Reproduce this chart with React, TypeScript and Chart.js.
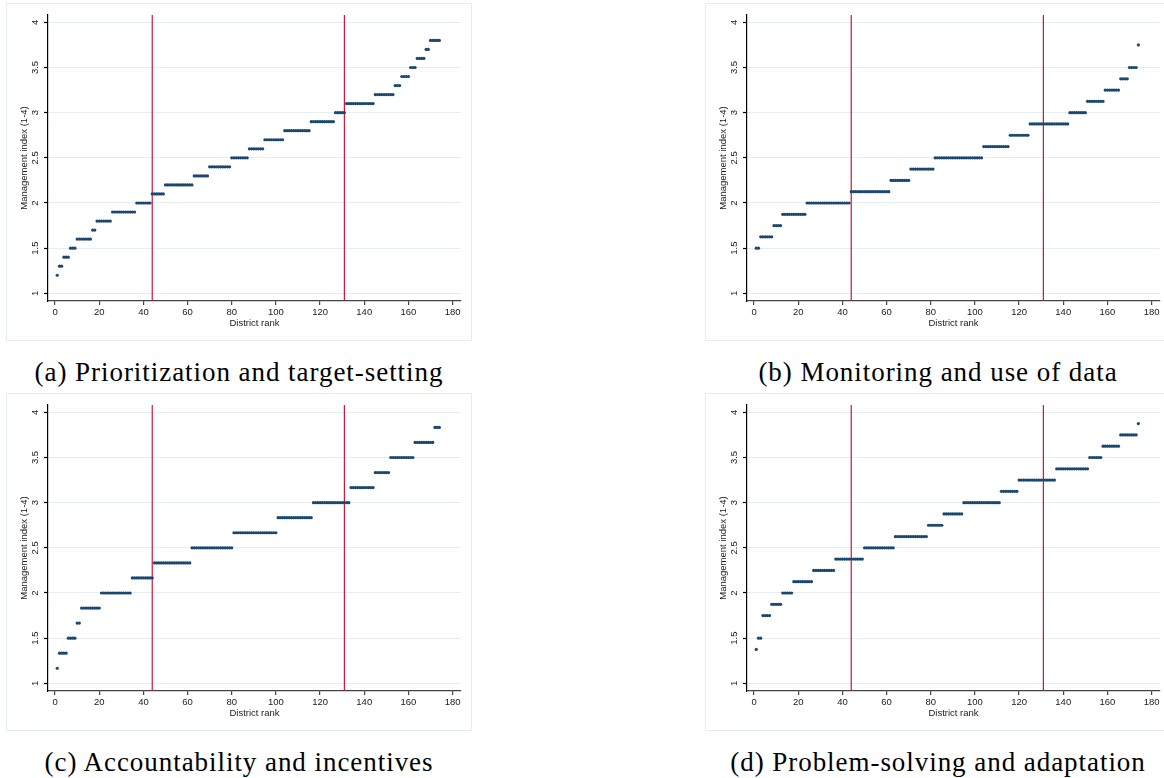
import React, { useEffect, useRef } from "react";
import { Chart, registerables } from "chart.js";

Chart.register(...registerables);

// ---- axes ----
const xTickValues = [0, 20, 40, 60, 80, 100, 120, 140, 160, 180];
const yTickValues = [1, 1.5, 2, 2.5, 3, 3.5, 4];
const yTickLabels = ["1", "1.5", "2", "2.5", "3", "3.5", "4"];
const xTitle = "District rank";
const yTitle = "Management index (1-4)";
const cutoffRanks = [44, 131];

// ---- data: index levels in rank order, and how many districts sit at each level ----
const levelsA = [1.2, 1.3, 1.4, 1.5, 1.6, 1.7, 1.8, 1.9, 2.0, 2.1, 2.2, 2.3, 2.4, 2.5, 2.6, 2.7, 2.8, 2.9, 3.0, 3.1, 3.2, 3.3, 3.4, 3.5, 3.6, 3.7, 3.8];
const countsA = [1, 2, 3, 3, 7, 2, 7, 11, 7, 6, 13, 7, 10, 8, 7, 9, 12, 11, 5, 13, 9, 3, 4, 3, 4, 2, 5];

const levelsB = [1.5, 1.625, 1.75, 1.875, 2.0, 2.125, 2.25, 2.375, 2.5, 2.625, 2.75, 2.875, 3.0, 3.125, 3.25, 3.375, 3.5, 3.75];
const countsB = [2, 6, 4, 11, 20, 18, 9, 11, 22, 12, 9, 18, 8, 8, 7, 4, 4, 1];

const levelsC = [1.1667, 1.3333, 1.5, 1.6667, 1.8333, 2.0, 2.1667, 2.3333, 2.5, 2.6667, 2.8333, 3.0, 3.1667, 3.3333, 3.5, 3.6667, 3.8333];
const countsC = [1, 4, 4, 2, 9, 14, 10, 17, 19, 20, 16, 17, 11, 7, 11, 9, 3];

const levelsD = [1.375, 1.5, 1.75, 1.875, 2.0, 2.125, 2.25, 2.375, 2.5, 2.625, 2.75, 2.875, 3.0, 3.125, 3.25, 3.375, 3.5, 3.625, 3.75, 3.875];
const countsD = [1, 2, 4, 5, 5, 9, 10, 13, 14, 15, 7, 9, 17, 8, 17, 15, 6, 8, 8, 1];

const captions = [
  "(a) Prioritization and target-setting",
  "(b) Monitoring and use of data",
  "(c) Accountability and incentives",
  "(d) Problem-solving and adaptation",
];

function toPoints(levels: number[], counts: number[]) {
  const pts: { x: number; y: number }[] = [];
  let rank = 1;
  levels.forEach((v, i) => {
    for (let k = 0; k < counts[i]; k++) pts.push({ x: rank++, y: v });
  });
  return pts;
}

const CANVAS_W = 464;
const CANVAS_H = 336;
const AREA = { left: 41, right: 454, top: 11, bottom: 297 };
const SANS = '"Liberation Sans", Arial, Helvetica, sans-serif';

function Panel(props: { left: number; top: number; levels: number[]; counts: number[] }) {
  const ref = useRef<HTMLCanvasElement | null>(null);
  useEffect(() => {
    const canvas = ref.current!;
    const overlay = {
      id: "stataOverlay",
      beforeDatasetsDraw(chart: any) {
        const { ctx, chartArea, scales } = chart;
        ctx.save();
        ctx.strokeStyle = "rgb(210,20,58)";
        ctx.lineWidth = 1.2;
        cutoffRanks.forEach((r) => {
          const px = scales.x.getPixelForValue(r);
          ctx.beginPath();
          ctx.moveTo(px, chartArea.top);
          ctx.lineTo(px, chartArea.bottom);
          ctx.stroke();
        });
        ctx.restore();
      },
      afterDraw(chart: any) {
        const { ctx, chartArea, scales } = chart;
        const ys = scales.y;
        ctx.save();
        ctx.fillStyle = "#1a1a1a";
        ctx.font = "9.5px " + SANS;
        ctx.textAlign = "center";
        ctx.textBaseline = "middle";
        ys.ticks.forEach((t: any) => {
          const idx = yTickValues.indexOf(t.value);
          const label = idx >= 0 ? yTickLabels[idx] : String(t.value);
          const py = ys.getPixelForValue(t.value);
          ctx.save();
          ctx.translate(28.5, py);
          ctx.rotate(-Math.PI / 2);
          ctx.fillText(label, 0, 0);
          ctx.restore();
        });
        ctx.save();
        ctx.translate(17, (chartArea.top + chartArea.bottom) / 2);
        ctx.rotate(-Math.PI / 2);
        ctx.fillText(yTitle, 0, 0);
        ctx.restore();
        ctx.fillText(xTitle, (chartArea.left + chartArea.right) / 2, 319);
        ctx.restore();
      },
    };
    const chart = new Chart(canvas, {
      type: "scatter",
      data: {
        datasets: [
          {
            data: toPoints(props.levels, props.counts),
            pointRadius: 1.6,
            pointHoverRadius: 1.6,
            pointBorderWidth: 0,
            pointBackgroundColor: "#1a476f",
            pointBorderColor: "#1a476f",
          },
        ],
      },
      options: {
        responsive: false,
        animation: false,
        events: [],
        layout: { padding: { left: 0, top: AREA.top, right: CANVAS_W - AREA.right, bottom: 0 } },
        plugins: { legend: { display: false }, tooltip: { enabled: false } },
        scales: {
          x: {
            type: "linear",
            min: -3.2,
            max: 183.8,
            afterBuildTicks: (s: any) => {
              s.ticks = xTickValues.map((v) => ({ value: v }));
            },
            afterFit: (s: any) => {
              s.height = CANVAS_H - AREA.bottom;
            },
            border: { display: true, color: "#444", width: 1.2 },
            grid: { drawOnChartArea: false, drawTicks: true, tickLength: 4, tickColor: "#444", lineWidth: 1.2 },
            ticks: { color: "#1a1a1a", font: { family: SANS, size: 9.5 }, padding: 2, maxRotation: 0, minRotation: 0 },
            title: { display: false },
          },
          y: {
            type: "linear",
            min: 0.915,
            max: 4.081,
            afterBuildTicks: (s: any) => {
              s.ticks = yTickValues.map((v) => ({ value: v }));
            },
            afterFit: (s: any) => {
              s.width = AREA.left;
            },
            border: { display: true, color: "#000", width: 1.2 },
            grid: { color: "#e6eff0", lineWidth: 1, drawTicks: true, tickLength: 4, tickColor: "#000", tickWidth: 1.2 },
            ticks: { display: false },
            title: { display: false },
          },
        },
      },
      plugins: [overlay],
    } as any);
    return () => chart.destroy();
  }, []);
  return (
    <div
      style={{
        position: "absolute",
        left: props.left,
        top: props.top,
        width: CANVAS_W + 2,
        height: CANVAS_H + 2,
        boxSizing: "border-box",
        border: "1px solid #e4eeee",
        background: "#fff",
      }}
    >
      <canvas ref={ref} width={CANVAS_W} height={CANVAS_H} style={{ display: "block" }} />
    </div>
  );
}

function Caption(props: { center: number; top: number; text: string }) {
  return (
    <div
      style={{
        position: "absolute",
        left: props.center - 300,
        top: props.top,
        width: 600,
        textAlign: "center",
        fontFamily: '"Liberation Serif", "Times New Roman", serif',
        fontSize: 27,
        lineHeight: "27px",
        letterSpacing: "0.95px",
        color: "#000",
        whiteSpace: "nowrap",
      }}
    >
      {props.text}
    </div>
  );
}

export default function App() {
  return (
    <div
      style={{
        position: "absolute",
        left: 0,
        top: 0,
        width: 1164,
        height: 778,
        overflow: "hidden",
        background: "#fff",
      }}
    >
      <Panel left={6} top={3} levels={levelsA} counts={countsA} />
      <Panel left={705} top={3} levels={levelsB} counts={countsB} />
      <Panel left={6} top={393} levels={levelsC} counts={countsC} />
      <Panel left={705} top={393} levels={levelsD} counts={countsD} />
      <Caption center={239} top={359} text={captions[0]} />
      <Caption center={938} top={359} text={captions[1]} />
      <Caption center={239} top={749} text={captions[2]} />
      <Caption center={938} top={749} text={captions[3]} />
    </div>
  );
}
